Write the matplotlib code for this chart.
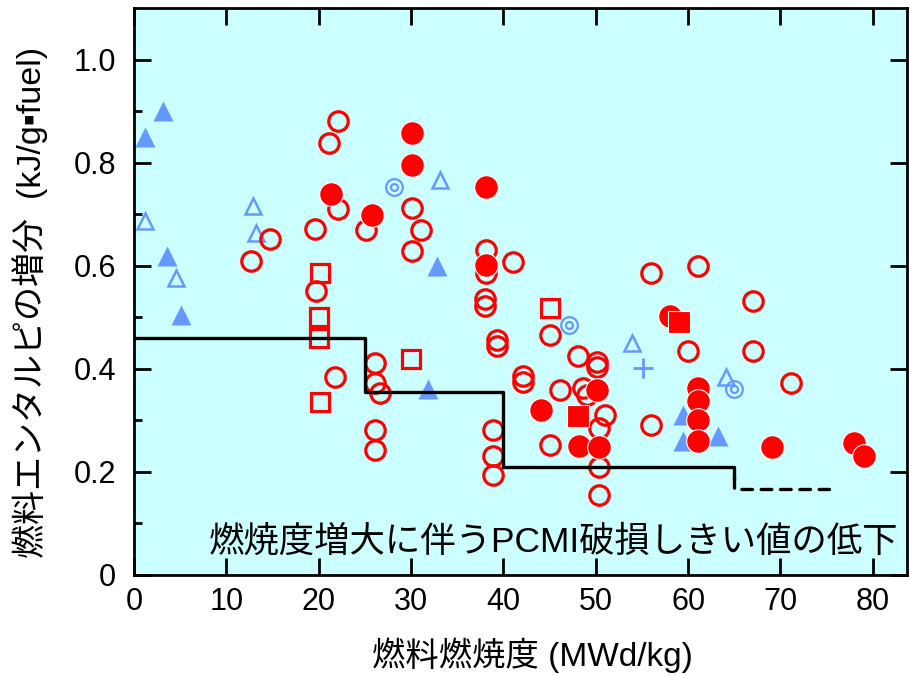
import numpy as np
import matplotlib
matplotlib.use('Agg')
import matplotlib.pyplot as plt

plt.rcParams['font.family'] = ['Liberation Sans', 'Noto Sans CJK JP', 'DejaVu Sans']

# red open circles
oc_x = [12.7, 14.7, 19.6, 19.7, 22.1, 21.1, 22.1, 21.8,
        25.1, 26.1, 26.1, 26.6, 26.1, 26.1,
        30.1, 31.1, 30.1,
        38.1, 38.1, 38.0, 38.0, 39.3, 39.3, 38.9, 38.9, 38.9,
        41.0, 42.1, 42.1,
        45.0, 48.1, 50.1, 50.1, 46.1, 48.6, 49.0, 51.0, 50.4, 45.0, 50.4, 50.4,
        56.0, 56.0, 61.1, 60.0, 67.0, 67.0, 71.1]
oc_y = [0.61, 0.652, 0.672, 0.551, 0.88, 0.838, 0.71, 0.385,
        0.669, 0.411, 0.372, 0.353, 0.282, 0.243,
        0.712, 0.67, 0.628,
        0.631, 0.586, 0.535, 0.522, 0.456, 0.445, 0.282, 0.23, 0.194,
        0.607, 0.386, 0.375,
        0.466, 0.424, 0.414, 0.404, 0.359, 0.362, 0.35, 0.311, 0.285, 0.252, 0.21, 0.155,
        0.586, 0.291, 0.599, 0.434, 0.531, 0.435, 0.372]

# red filled circles
fc_x = [30.1, 30.1, 21.3, 25.8, 38.1, 38.1, 44.1, 48.2, 50.1, 50.4,
        58.0, 61.1, 61.1, 61.1, 61.1, 69.1, 78.0, 79.0]
fc_y = [0.858, 0.795, 0.74, 0.699, 0.753, 0.602, 0.32, 0.25, 0.359, 0.249,
        0.503, 0.362, 0.337, 0.30, 0.259, 0.249, 0.256, 0.23]

# red open squares
os_x = [20.1, 20.0, 20.0, 20.1, 30.0, 45.0]
os_y = [0.586, 0.50, 0.46, 0.335, 0.419, 0.518]

# red filled squares
fs_x = [48.1, 59.0]
fs_y = [0.309, 0.49]

# blue filled triangles
ft_x = [1.2, 3.1, 3.6, 5.1, 32.8, 31.8, 59.4, 59.4, 63.2]
ft_y = [0.85, 0.90, 0.618, 0.505, 0.60, 0.36, 0.31, 0.26, 0.27]

# blue open triangles
ot_x = [1.2, 4.6, 12.9, 13.2, 33.1, 53.9, 64.1]
ot_y = [0.687, 0.577, 0.715, 0.664, 0.767, 0.45, 0.385]

# blue double circles
dc_x = [28.2, 47.1, 65.0]
dc_y = [0.753, 0.485, 0.36]

# blue plus
pl_x = [55.1]
pl_y = [0.401]

# PCMI failure threshold (step line)
th_x = [0, 25, 25, 40, 40, 65, 65]
th_y = [0.46, 0.46, 0.355, 0.355, 0.21, 0.21, 0.19]
th2_x = [65, 65, 75.3]
th2_y = [0.19, 0.167, 0.167]

red = '#ff0000'
blue = '#6699ff'

fig = plt.figure(figsize=(9.09, 6.75), dpi=100)
ax = fig.add_axes([134 / 909, 100 / 675, 773 / 909, 567 / 675])
ax.set_facecolor('#ccffff')

ax.plot(ot_x, ot_y, '^', ms=11, mfc='none', mec=blue, mew=1.8, zorder=2)
ax.plot(dc_x, dc_y, 'o', ms=12, mfc='none', mec=blue, mew=1.6, zorder=2)
ax.plot(dc_x, dc_y, 'o', ms=5, mfc='none', mec=blue, mew=1.6, zorder=2)
ax.plot(pl_x, pl_y, '+', ms=14, mec=blue, mew=2, zorder=2)
ax.plot(ft_x, ft_y, '^', ms=14, color=blue, mec='none', zorder=2)
ax.plot(os_x, os_y, 's', ms=13, mfc='none', mec=red, mew=2.3, zorder=3)
ax.plot(oc_x, oc_y, 'o', ms=14, mfc='none', mec=red, mew=2.3, zorder=3)
ax.plot(fc_x, fc_y, 'o', ms=17, mfc=red, mec='white', mew=0.8, zorder=4)
ax.plot(fs_x, fs_y, 's', ms=16, mfc=red, mec='white', mew=0.8, zorder=5)

ax.plot(th_x, th_y, color='black', lw=2.4, zorder=6)
ax.plot(th2_x, th2_y, color='black', lw=2.4, ls=(0, (3.2, 2.6)),
        dash_capstyle='round', zorder=6)

ax.set_xlim(0, 83.7)
ax.set_ylim(0, 1.1)
ax.set_xticks(np.arange(0, 81, 10))
ax.set_yticks([0, 0.2, 0.4, 0.6, 0.8, 1.0])
ax.set_yticklabels(['0', '0.2', '0.4', '0.6', '0.8', '1.0'])
ax.set_yticks(np.arange(0.1, 1.1, 0.2), minor=True)
ax.tick_params(axis='both', which='major', direction='in', length=12, width=2,
               labelsize=22, pad=9, top=True, right=True)
ax.tick_params(axis='y', which='major', pad=13)
ax.tick_params(axis='y', which='minor', direction='in', length=6, width=2,
               right=False)
for s in ax.spines.values():
    s.set_linewidth(2)

ax.set_xlabel('燃料燃焼度 (MWd/kg)', fontsize=24)
ax.xaxis.set_label_coords(0.516, -0.141)
ax.xaxis.label.set_va('center')
ax.set_ylabel('燃料エンタルピの増分  (kJ/g▪fuel)', fontsize=24.5)
ax.yaxis.set_label_coords(-0.135, 0.48)
ax.yaxis.label.set_va('center')

ax.text(0.543, 0.058, '燃焼度増大に伴うPCMI破損しきい値の低下', transform=ax.transAxes,
        ha='center', va='center', fontsize=25.5, zorder=7)

fig.savefig('out.png', dpi=100)
